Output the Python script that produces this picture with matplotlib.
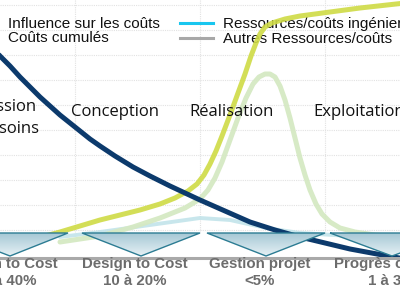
import numpy as np
import matplotlib
matplotlib.use("Agg")
import matplotlib.pyplot as plt
from matplotlib.patches import Polygon
from matplotlib.colors import LinearSegmentedColormap

# ---- data (image-like coordinates: y grows downward) ----
influence_x = [-10, 0, 10, 20, 30, 40, 50, 60, 70, 80, 90, 100, 115, 133, 150, 170, 200,
               225, 250, 275, 300, 325, 350, 377, 405]
influence_y = [45, 56, 66, 77, 87, 97, 106, 115, 123, 131, 139, 146, 156, 167, 176, 186, 200,
               211, 222, 230, 237, 243, 249, 254, 259]

cumul_x = [45, 60, 80, 100, 120, 140, 160, 175, 188, 197, 204, 210, 216, 222, 230, 238, 245,
           251, 256, 260, 265, 272, 285, 300, 330, 360, 405]
cumul_y = [236, 232, 226, 220, 215, 210, 204, 198, 191, 184, 175, 164, 151, 136, 115, 93, 74,
           56, 43, 34, 27, 23, 19, 16, 12, 8, 3]

autres_x = [60, 100, 133, 160, 185, 200, 208, 215, 222, 230, 238, 246, 253, 259, 265, 270, 275,
            280, 285, 290, 295, 300, 305, 310, 316, 322, 330, 340, 355, 375, 405]
autres_y = [242, 236, 227, 218, 208, 199, 190, 178, 162, 140, 118, 98, 84, 77, 74, 74, 77,
            86, 100, 118, 138, 158, 175, 190, 204, 214, 222, 228, 232, 235, 237]

inge_x = [60, 100, 150, 200, 230, 266, 300, 350, 405]
inge_y = [237, 232, 225, 218, 220, 228, 233, 236, 238]

legend_left = ["Influence sur les coûts", "Coûts cumulés"]
legend_right = ["Ressources/coûts ingénierie", "Autres Ressources/coûts"]
legend_right_colors = ["#19c6ef", "#a8a8a8"]

phases = ["Expression\ndes besoins", "Conception", "Réalisation", "Exploitation"]
phase_x = [-6, 115.5, 231.5, 313]
phase_ha = ["center", "center", "center", "left"]
phase_y = [118, 112, 112, 112]

levers = ["Design to Cost\n20 à 40%", "Design to Cost\n10 à 20%", "Gestion projet\n<5%", "Progrès continu\n1 à 3%"]
lever_x = [5, 135, 260, 391]
tri_left = [-50, 82, 207, 330]
tri_apex = [10, 141, 266, 392]
tri_right = [68, 200, 325, 455]

grid_x = [75, 200, 325]
grid_y = [5, 30, 55, 80, 105, 130, 155, 180, 205, 230]

# ---- figure ----
fig = plt.figure(figsize=(4, 3), dpi=100)
ax = fig.add_axes([0, 0, 1, 1])
ax.set_xlim(0, 400)
ax.set_ylim(300, 0)
ax.axis("off")

for gx in grid_x:
    ax.plot([gx, gx], [0, 232], color="#e2e2e2", lw=0.8, ls=(0, (1, 1)), zorder=1)
for gy in grid_y:
    ax.plot([0, 400], [gy, gy], color="#e2e2e2", lw=0.8, ls=(0, (1, 1)), zorder=1)

ax.plot(inge_x, inge_y, color="#c2e4ea", lw=2.8, alpha=0.9, solid_capstyle="round",
        solid_joinstyle="round", zorder=2)
ax.plot(autres_x, autres_y, color="#d5e9c3", lw=3.6, alpha=0.95, solid_capstyle="round",
        solid_joinstyle="round", zorder=3)
ax.plot(cumul_x, cumul_y, color="#cfdb45", lw=3.6, alpha=0.9, solid_capstyle="round",
        solid_joinstyle="round", zorder=4)
ax.plot(influence_x, influence_y, color="#0c3a6c", lw=3.6, solid_capstyle="round",
        solid_joinstyle="round", zorder=5)

# legend-like text
FS = 11
ax.text(8, 24, legend_left[0], fontsize=FS, family="Liberation Sans", va="center", ha="left", color="#111111")
ax.text(8, 38, legend_left[1], fontsize=FS, family="Liberation Sans", va="center", ha="left", color="#111111")
for i, (lab, col) in enumerate(zip(legend_right, legend_right_colors)):
    yy = 23 + 15 * i
    ax.plot([180, 213], [yy, yy], color=col, lw=2.2, zorder=6)
    ax.text(223, yy + 1, lab, fontsize=FS, family="Liberation Sans", va="center", ha="left", color="#111111")

# phase labels
for lab, px, py, ha in zip(phases, phase_x, phase_y, phase_ha):
    ax.text(px, py, lab, fontsize=12, family="Open Sans", ha=ha, va="center",
            color="#111111", linespacing=1.45, zorder=7)

# triangles with gradient
cmap = LinearSegmentedColormap.from_list("tri", ["#a6c8d5", "#e6f1f5"])
grad = np.linspace(0, 1, 64).reshape(-1, 1)
for l, a, r in zip(tri_left, tri_apex, tri_right):
    poly = Polygon([[l, 233], [r, 233], [a, 256]], closed=True, facecolor="none",
                   edgecolor="#2c7c93", lw=1.0, zorder=9)
    ax.add_patch(poly)
    im = ax.imshow(grad, cmap=cmap, extent=[l, r, 256, 233], aspect="auto", zorder=8)
    im.set_clip_path(poly)
ax.set_xlim(0, 400)
ax.set_ylim(300, 0)

ax.plot([0, 400], [257.5, 257.5], color="#a9a9a9", lw=2.2, zorder=7)

for lab, lx in zip(levers, lever_x):
    ax.text(lx, 272.5, lab, fontsize=10.8, family="Liberation Sans", weight="bold", ha="center",
            va="center", color="#6c6c6c", linespacing=1.25, zorder=10)

fig.savefig("out.png", dpi=100)
